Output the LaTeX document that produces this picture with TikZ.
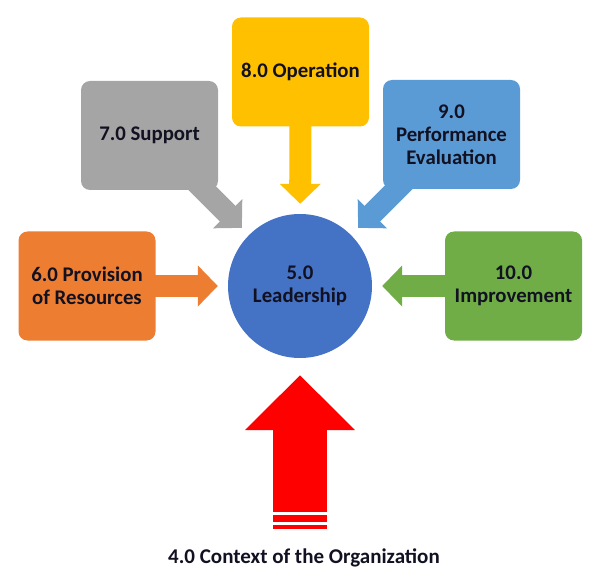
\documentclass[tikz,border=0pt]{standalone}
\usepackage{fontspec}
\setmainfont{Carlito}
\usepackage{tikz}
\usetikzlibrary{arrows.meta,backgrounds}
\definecolor{ldblue}{HTML}{4472C4}
\definecolor{prorange}{HTML}{ED7D31}
\definecolor{supgrey}{HTML}{A5A5A5}
\definecolor{opgold}{HTML}{FFC000}
\definecolor{pfblue}{HTML}{5B9BD5}
\definecolor{imgreen}{HTML}{70AD47}
\definecolor{txtdark}{HTML}{111122}
\tikzset{
  clause/.style={rectangle, rounded corners=9pt, minimum width=137pt, minimum height=109pt,
    inner sep=0pt, align=center, text=txtdark,
    font=\fontsize{20.8}{23}\selectfont\bfseries},
  feed/.style={line width=22pt, draw=#1, shorten <=-15pt, shorten >=10pt,
    -{Triangle[length=20pt,width=40pt]}},
  bigfeed/.style={line width=54pt, draw=red, shorten >=17pt,
    -{Triangle[length=55pt,width=107pt]}}
}

\begin{document}
\begin{tikzpicture}[x=1pt,y=-1pt]
\useasboundingbox (0,0) rectangle (600,580);
\node[circle, fill=ldblue, minimum size=144pt, inner sep=0pt, align=center, text=txtdark,
  font=\fontsize{20.8}{23}\selectfont\bfseries] (lead) at (300,286) {5.0\\Leadership};
\node[clause, fill=prorange] (prov) at (87,286)    {6.0 Provision\\of Resources};
\node[clause, fill=supgrey]  (supp) at (149.5,135.5) {7.0 Support};
\node[clause, fill=opgold]   (oper) at (300.5,72)  {8.0 Operation};
\node[clause, fill=pfblue]   (perf) at (451.5,134.5) {9.0\\Performance\\Evaluation};
\node[clause, fill=imgreen]  (impr) at (513.5,286) {10.0\\Improvement};
\coordinate (base) at (300,512);
\node[anchor=base, text=txtdark, font=\fontsize{21}{24}\selectfont\bfseries] (ctx) at (304,563)
  {4.0 Context of the Organization};

\begin{scope}[on background layer]
\draw[feed=prorange] (prov) to (lead);
\draw[feed=supgrey] (supp) to (lead);
\draw[feed=opgold] (oper) to (lead);
\draw[feed=pfblue] (perf) to (lead);
\draw[feed=imgreen] (impr) to (lead);
\end{scope}

\draw[bigfeed] (base) to (lead);
\fill[red] (273,515) rectangle (327,522);
\fill[red] (273,525) rectangle (327,529);
\end{tikzpicture}
\end{document}
